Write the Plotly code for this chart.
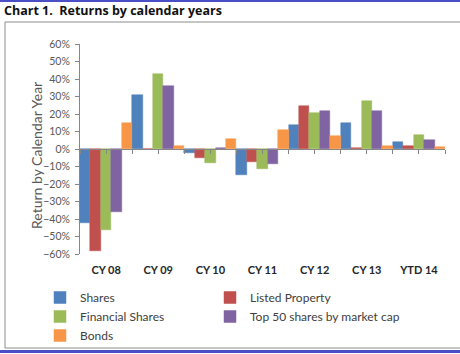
import plotly.graph_objects as go

categories = ["CY 08", "CY 09", "CY 10", "CY 11", "CY 12", "CY 13", "YTD 14"]
shares = [-0.42, 0.31, -0.02, -0.15, 0.14, 0.146, 0.038]
listed_property = [-0.585, 0.0, -0.05, -0.075, 0.245, 0.004, 0.015]
financial_shares = [-0.46, 0.43, -0.08, -0.115, 0.207, 0.275, 0.078]
top50 = [-0.36, 0.36, 0.005, -0.087, 0.22, 0.22, 0.05]
bonds = [0.15, 0.02, 0.06, 0.11, 0.076, 0.02, 0.013]

series_names = ["Shares", "Listed Property", "Financial Shares",
                "Top 50 shares by market cap", "Bonds"]
series_values = [shares, listed_property, financial_shares, top50, bonds]
colors = ["#4F81BD", "#C0504D", "#9BBB59", "#8064A2", "#F79646"]
legend_column = ["legend", "legend2", "legend", "legend2", "legend"]
y_ticks = [-0.6, -0.5, -0.4, -0.3, -0.2, -0.1, 0, 0.1, 0.2, 0.3, 0.4, 0.5, 0.6]

FONT = "Lato"

fig = go.Figure()
for name, vals, col, lg in zip(series_names, series_values, colors, legend_column):
    fig.add_trace(go.Bar(
        x=categories, y=vals, name=name, legend=lg,
        marker=dict(color=col, line=dict(color=col, width=0.5)),
    ))

W, H = 460, 354
L, R, T, B = 80, 15, 44, 100

legend_common = dict(
    orientation="v", xref="container", yref="container",
    xanchor="left", yanchor="top",
    font=dict(family=FONT, size=12, color="#404040"),
    traceorder="normal", itemclick=False, tracegroupgap=0,
    bgcolor="rgba(0,0,0,0)",
)

fig.update_layout(
    width=W, height=H,
    margin=dict(l=L, r=R, t=T, b=B, pad=0, autoexpand=False),
    paper_bgcolor="white", plot_bgcolor="white",
    barmode="group", bargap=0, bargroupgap=0,
    font=dict(family=FONT, color="#404040"),
    title=dict(
        text="<b>Chart 1.  Returns by calendar years</b>",
        font=dict(family="Open Sans", size=12.5, color="#111111"),
        x=4 / W, xref="container", xanchor="left",
        y=1 - 11 / H, yref="container", yanchor="middle",
    ),
    xaxis=dict(
        type="category", showline=False, ticks="", showgrid=False, zeroline=False,
        tickfont=dict(family=FONT, size=11, color="#262626", weight="bold"),
        ticklabelstandoff=8,
        range=[-0.5, len(categories) - 0.5],
    ),
    xaxis2=dict(
        overlaying="x", anchor="free", position=0.5,
        range=[-0.5, len(categories) - 0.5],
        tickmode="linear", tick0=-0.5, dtick=0.5,
        ticks="outside", ticklen=4, tickcolor="#868686",
        showline=True, linecolor="#868686", linewidth=1,
        showticklabels=False, showgrid=False, zeroline=False,
    ),
    yaxis=dict(
        range=[-0.6, 0.6], tickvals=y_ticks, tickformat=".0%",
        showline=True, linecolor="#868686", linewidth=1,
        ticks="outside", ticklen=4, tickcolor="#868686",
        showgrid=False, zeroline=False,
        ticklabelstandoff=3,
        tickfont=dict(family=FONT, size=10.5, color="#595959"),
    ),
    legend=dict(legend_common, x=40 / W, y=1 - 283 / H),
    legend2=dict(legend_common, x=210 / W, y=1 - 283 / H),
    showlegend=True,
)

# invisible trace to activate xaxis2
fig.add_trace(go.Scatter(x=[0], y=[0], xaxis="x2", yaxis="y", mode="markers",
                         marker=dict(opacity=0), showlegend=False, hoverinfo="skip"))

def px_x(p):
    return (p - L) / (W - L - R)

def px_y(p):
    return (H - B - p) / (H - T - B)

fig.add_annotation(
    text="Return by Calendar Year", textangle=-90,
    xref="paper", yref="paper",
    x=px_x(36), y=px_y(156),
    showarrow=False, xanchor="center", yanchor="middle",
    font=dict(family=FONT, size=14, color="#595959"),
)

# frame and blue separator lines (decoration)
fig.add_shape(type="rect", xref="paper", yref="paper",
              x0=px_x(5), x1=px_x(490), y0=px_y(22), y1=px_y(348),
              line=dict(color="#8C8C8C", width=1), fillcolor="rgba(0,0,0,0)", layer="below")
fig.add_shape(type="line", xref="paper", yref="paper",
              x0=px_x(0), x1=px_x(460), y0=px_y(1), y1=px_y(1),
              line=dict(color="#4A4FC8", width=2))
fig.add_shape(type="line", xref="paper", yref="paper",
              x0=px_x(0), x1=px_x(460), y0=px_y(351.5), y1=px_y(351.5),
              line=dict(color="#4A4FC8", width=3))

fig.write_html("out.html", config={"displayModeBar": False})
